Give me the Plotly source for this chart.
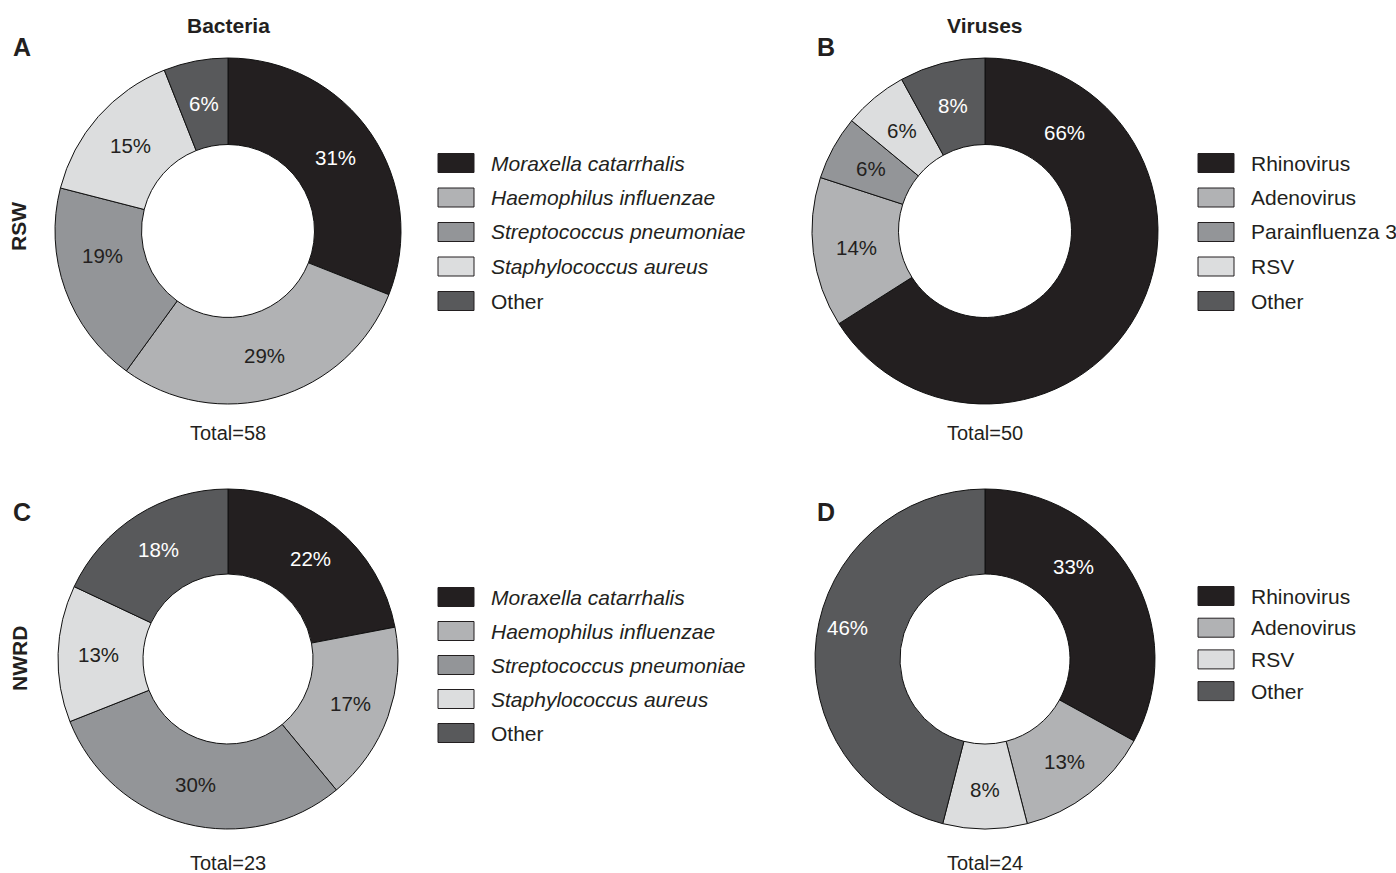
import math
import plotly.graph_objects as go

# ---- data ----
bacteria_labels = ["Moraxella catarrhalis", "Haemophilus influenzae",
                   "Streptococcus pneumoniae", "Staphylococcus aureus", "Other"]
bacteria_rsw = [31, 29, 19, 15, 6]
bacteria_nwrd = [22, 17, 30, 13, 18]

virus_labels_rsw = ["Rhinovirus", "Adenovirus", "Parainfluenza 3", "RSV", "Other"]
virus_rsw = [66, 14, 6, 6, 8]
virus_labels_nwrd = ["Rhinovirus", "Adenovirus", "RSV", "Other"]
virus_nwrd = [33, 13, 8, 46]

totals = [58, 50, 23, 24]

# ---- styling ----
W, H = 1396, 873
FONT = "Liberation Sans, Arial, Helvetica, sans-serif"
FS = 21
INK = "#231f20"
C_BLACK = "#231f20"
C_LIGHT = "#b1b2b4"
C_MID = "#939598"
C_PALE = "#dcddde"
C_DARK = "#58595b"

color_map = {
    "Moraxella catarrhalis": C_BLACK, "Haemophilus influenzae": C_LIGHT,
    "Streptococcus pneumoniae": C_MID, "Staphylococcus aureus": C_PALE,
    "Rhinovirus": C_BLACK, "Adenovirus": C_LIGHT, "Parainfluenza 3": C_MID,
    "RSV": C_PALE, "Other": C_DARK,
}
white_text = {C_BLACK, C_DARK}


def px_x(x):
    return x / W


def px_y(y):
    return 1 - y / H


panels = [
    # labels, values, center x, center y, radius, legend x, legend first row y, row step, total y
    (bacteria_labels, bacteria_rsw, 228, 231, 173, 438, 163, 34.5, 433),
    (virus_labels_rsw, virus_rsw, 985, 231, 173, 1198, 163, 34.5, 433),
    (bacteria_labels, bacteria_nwrd, 228, 659, 170, 438, 597, 34.0, 863),
    (virus_labels_nwrd, virus_nwrd, 985, 659, 170, 1198, 596, 31.7, 863),
]

# percentage label placement: (panel, slice) -> (angle from 12 o'clock in deg, radius px)
label_place = {
    (0, 2): (259, 128),
    (1, 0): (39, 127),
    (3, 0): (44, 128),
    (3, 3): (283, 141),
}
LABEL_R = 130

fig = go.Figure()
shapes = []
annotations = []

for p, ((labels, vals, cx, cy, r, lx, ly, step, ty_total), total) in enumerate(zip(panels, totals)):
    colors = [color_map[l] for l in labels]
    fig.add_trace(go.Pie(
        labels=labels, values=vals, sort=False, direction="clockwise",
        rotation=0, hole=0.5,
        domain=dict(x=[px_x(cx - r), px_x(cx + r)], y=[px_y(cy + r), px_y(cy - r)]),
        marker=dict(colors=colors, line=dict(color="#111111", width=1)),
        textinfo="none", showlegend=False, hoverinfo="label+value",
    ))

    # percentage labels in the ring
    tot = sum(vals)
    start = 0.0
    for i, v in enumerate(vals):
        mid = (start + v / 2) / tot * 360
        start += v
        ang, rr = label_place.get((p, i), (mid, LABEL_R))
        tx = cx + rr * math.sin(math.radians(ang))
        ty = cy - rr * math.cos(math.radians(ang))
        annotations.append(dict(
            x=px_x(tx), y=px_y(ty), xref="paper", yref="paper",
            text=f"{v}%", showarrow=False, xanchor="center", yanchor="middle",
            font=dict(family=FONT, size=20.5,
                      color="white" if colors[i] in white_text else INK)))

    # legend: swatch + label per category
    for i, lab in enumerate(labels):
        yy = ly + i * step
        shapes.append(dict(type="rect", xref="paper", yref="paper",
                           x0=px_x(lx), x1=px_x(lx + 36),
                           y0=px_y(yy + 9.5), y1=px_y(yy - 9.5),
                           fillcolor=color_map[lab],
                           line=dict(color=INK, width=1)))
        is_species = (labels is bacteria_labels) and lab != "Other"
        annotations.append(dict(x=px_x(lx + 51), y=px_y(yy), xref="paper", yref="paper",
                                text=f"<i>{lab}</i>" if is_species else lab,
                                showarrow=False, xanchor="left", yanchor="middle",
                                font=dict(family=FONT, size=FS, color=INK)))
    annotations.append(dict(x=px_x(cx), y=px_y(ty_total), xref="paper", yref="paper",
                            text=f"Total={total}", showarrow=False,
                            xanchor="center", yanchor="middle",
                            font=dict(family=FONT, size=20, color=INK)))

# panel letters, column titles, row labels
for letter, x, y in [("A", 22, 47), ("B", 826, 47), ("C", 22, 512), ("D", 826, 512)]:
    annotations.append(dict(x=px_x(x), y=px_y(y), xref="paper", yref="paper",
                            text=f"<b>{letter}</b>", showarrow=False,
                            xanchor="center", yanchor="middle",
                            font=dict(family=FONT, size=25, color=INK)))
for title, x in [("Bacteria", 228), ("Viruses", 985)]:
    annotations.append(dict(x=px_x(x), y=px_y(25), xref="paper", yref="paper",
                            text=f"<b>{title}</b>", showarrow=False,
                            xanchor="center", yanchor="middle",
                            font=dict(family=FONT, size=FS, color=INK)))
for row, y in [("RSW", 227), ("NWRD", 659)]:
    annotations.append(dict(x=px_x(19), y=px_y(y), xref="paper", yref="paper",
                            text=f"<b>{row}</b>", showarrow=False, textangle=-90,
                            xanchor="center", yanchor="middle",
                            font=dict(family=FONT, size=FS, color=INK)))

fig.update_layout(
    width=W, height=H, margin=dict(l=0, r=0, t=0, b=0),
    paper_bgcolor="white", plot_bgcolor="white",
    shapes=shapes, annotations=annotations, showlegend=False,
)

fig.write_html("out.html")
